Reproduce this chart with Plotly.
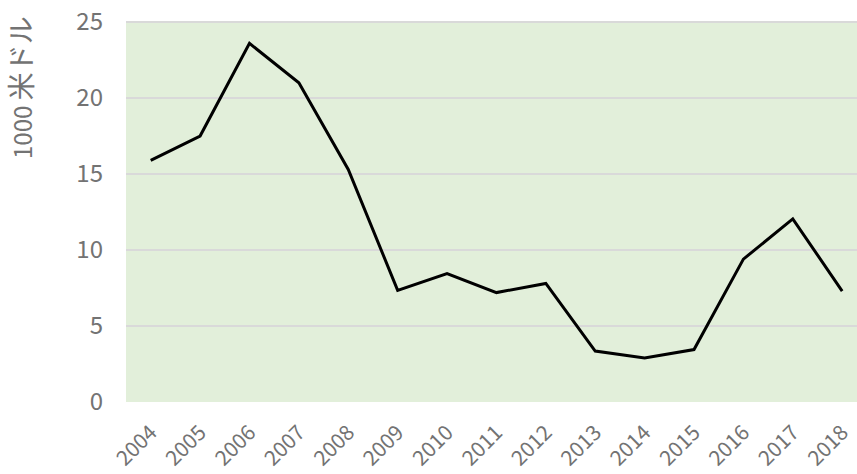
import plotly.graph_objects as go

years = [str(y) for y in range(2004, 2019)]
values = [15.9, 17.5, 23.6, 21.0, 15.3, 7.35, 8.45, 7.2, 7.8, 3.35, 2.9, 3.45, 9.4, 12.05, 7.3]
y_ticks = [0, 5, 10, 15, 20, 25]

FONT = "Noto Sans CJK JP"
GRAY = "#737373"

fig = go.Figure()
fig.add_trace(go.Scatter(
    x=list(range(len(years))), y=values, mode="lines",
    line=dict(color="black", width=3), hoverinfo="skip"))

fig.update_layout(
    width=857, height=474,
    margin=dict(l=126, r=0, t=21, b=72),
    paper_bgcolor="white", plot_bgcolor="#E2EFDA",
    showlegend=False,
    font=dict(family=FONT, color=GRAY),
    xaxis=dict(
        range=[-0.5, 14.3], tickmode="array",
        tickvals=list(range(len(years))), ticktext=years,
        tickangle=-45, tickfont=dict(size=21, color=GRAY, family=FONT),
        showgrid=False, zeroline=False, showline=False, ticks="",
        ticklabelstandoff=13, automargin=False,
    ),
    yaxis=dict(
        range=[0, 25.07], tickmode="array", tickvals=y_ticks,
        ticktext=[str(v) for v in y_ticks],
        tickfont=dict(size=24, color=GRAY, family=FONT),
        showgrid=True, gridcolor="#D9D9D9", gridwidth=1.5,
        zeroline=False, showline=False, ticks="", ticklabelstandoff=22,
        automargin=False, ticklabeloverflow="allow",
    ),
    annotations=[dict(
        text="1000 <span style='font-size:28px'>米ドル</span>", textangle=-90,
        xref="paper", yref="paper",
        x=-0.146, y=0.825, xanchor="center", yanchor="middle",
        showarrow=False, font=dict(size=24, color=GRAY, family=FONT))],
)

fig.write_html("out.html", config={"displayModeBar": False},
               post_script="document.body.style.margin='0';")
